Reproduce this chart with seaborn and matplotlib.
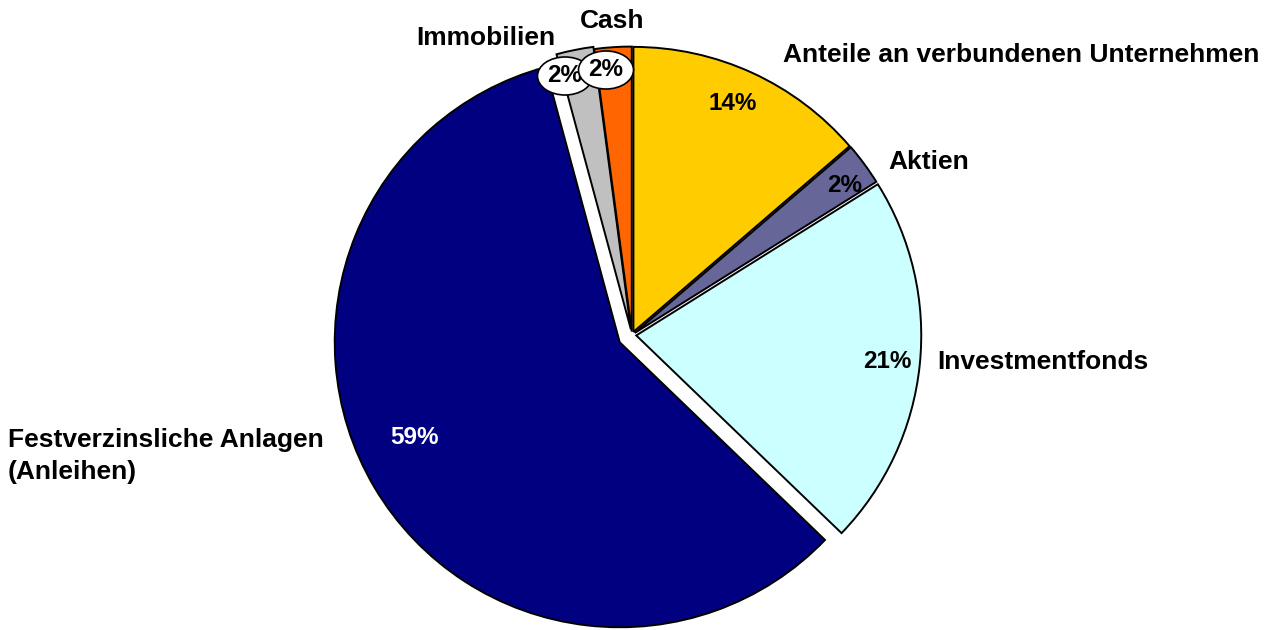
import matplotlib
matplotlib.use("Agg")
import matplotlib.pyplot as plt
import seaborn as sns
import numpy as np

categories = ["Anteile an verbundenen Unternehmen", "Aktien", "Investmentfonds",
              "Festverzinsliche Anlagen\n(Anleihen)", "Immobilien", "Cash"]
values = [13.7, 2.4, 21.1, 58.6, 2.1, 2.1]
pct_labels = ["14%", "2%", "21%", "59%", "2%", "2%"]
colors = ["#FFCC00", "#666699", "#CCFFFF", "#000080", "#C0C0C0", "#FF6600"]

sns.set_theme(style="white")
plt.rcParams['font.family'] = ['Liberation Sans', 'DejaVu Sans']

W, H = 1270, 630
R = 285.0
CX, CY = 632.0, 335.0

def px(x, y):
    return ((x - CX) / R, (CY - y) / R)

fig = plt.figure(figsize=(12.7, 6.3), dpi=100)
ax = fig.add_axes([0, 0, 1, 1])

explode = [0.012, 0.012, 0.015, 0.05, 0.02, 0.012]
wedges, texts, autotexts = ax.pie(
    values, colors=colors, startangle=90, counterclock=False,
    explode=explode, radius=1.0, autopct="%1.0f%%", pctdistance=0.85,
    wedgeprops=dict(edgecolor="black", linewidth=1.4),
    textprops=dict(fontsize=17.5, fontweight="bold", color="black"))

pct_pos = [(733, 103), (845, 185), (887, 362), (415, 438), (565, 76), (606, 70)]
for t, lab, p in zip(autotexts, pct_labels, pct_pos):
    t.set_text(lab)
    t.set_position(px(*p))
    t.set_ha("center")
    t.set_va("center")
autotexts[3].set_color("white")
for i in (4, 5):
    autotexts[i].set_bbox(dict(boxstyle="ellipse,pad=0.08", facecolor="white",
                               edgecolor="black", linewidth=1.2))
    autotexts[i].set_zorder(5)

lab_specs = [
    (categories[0], (783, 55), "left"),
    (categories[1], (888, 162), "left"),
    (categories[2], (937, 362), "left"),
    (categories[3], (8, 456), "left"),
    (categories[4], (555, 38), "right"),
    (categories[5], (612, 21), "center"),
]
for txt, p, ha in lab_specs:
    x, y = px(*p)
    ax.text(x, y, txt, ha=ha, va="center", fontsize=19, fontweight="bold",
            color="black", linespacing=1.45)

ax.set_xlim(-CX / R, (W - CX) / R)
ax.set_ylim(-(H - CY) / R, CY / R)
ax.set_aspect("equal", adjustable="box")
ax.axis("off")

fig.savefig("out.png", dpi=100, facecolor="white")
